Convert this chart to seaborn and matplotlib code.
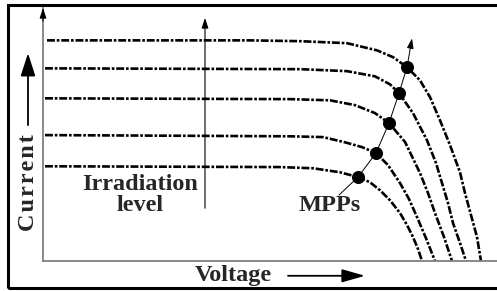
import matplotlib
matplotlib.use("Agg")
import matplotlib.pyplot as plt
from matplotlib.patches import Rectangle
import seaborn as sns
import pandas as pd

# I-V curves (voltage in V, current in A), one per irradiation level
v1 = [0.2, 10.35, 12.85, 15.2, 16.7, 17.5, 18.2, 18.85, 19.35, 19.85, 20.35,
      20.85, 21.1, 21.4, 21.7, 21.9]
i1 = [5.52, 5.52, 5.5, 5.45, 5.27, 5.1, 4.85, 4.52, 4.1, 3.52, 2.9,
      2.22, 1.7, 1.15, 0.6, 0.0]
v2 = [0.1, 12.85, 15.2, 16.6, 17.35, 17.8, 18.5, 19.2, 19.65, 19.95, 20.25,
      20.5, 20.85, 21.15]
i2 = [4.82, 4.8, 4.75, 4.62, 4.42, 4.2, 3.7, 3.02, 2.45, 1.95, 1.45,
      0.95, 0.45, 0.0]
v3 = [0.1, 12.35, 14.35, 15.6, 16.6, 17.3, 18.1, 18.85, 19.25, 19.6, 20.05, 20.45]
i3 = [4.07, 4.05, 4.02, 3.9, 3.7, 3.45, 2.98, 2.2, 1.7, 1.2, 0.6, 0.0]
v4 = [0.1, 12.35, 14.0, 15.1, 15.95, 16.65, 17.25, 17.85, 18.3, 18.7, 19.15, 19.6]
i4 = [3.15, 3.12, 3.1, 2.97, 2.85, 2.7, 2.4, 1.95, 1.55, 1.1, 0.57, 0.0]
v5 = [0.1, 11.85, 13.5, 14.85, 15.75, 16.35, 16.85, 17.35, 17.85, 18.2, 18.5,
      18.75, 18.95]
i5 = [2.37, 2.35, 2.32, 2.22, 2.1, 1.97, 1.77, 1.52, 1.2, 0.9, 0.6, 0.3, 0.0]

# maximum power points, bottom to top, plus the tail and tip of the MPP arrow
mpp_v = [15.75, 16.65, 17.3, 17.8, 18.2]
mpp_i = [2.1, 2.7, 3.45, 4.2, 4.85]
mpp_tail = (14.8, 1.65)
mpp_tip = (18.45, 5.57)

curves = [(v1, i1), (v2, i2), (v3, i3), (v4, i4), (v5, i5)]

sns.set_style("white")
plt.rcParams['font.family'] = ['Liberation Serif', 'DejaVu Serif']
plt.rcParams['font.weight'] = 'bold'

fig = plt.figure(figsize=(4.97, 2.91), dpi=100)
ax = fig.add_axes([43 / 497, 30 / 291, 454 / 497, 253 / 291])

for v, i in curves:
    sns.lineplot(x=v, y=i, ax=ax, color='black', sort=False, lw=1.9,
                 linestyle=(0, (3, 0.7, 1, 0.7)))

# MPP path
sns.lineplot(x=[mpp_tail[0]] + mpp_v, y=[mpp_tail[1]] + mpp_i, ax=ax,
             color='black', sort=False, lw=0.7)
ax.annotate('', xy=mpp_tip, xytext=(mpp_v[-1], mpp_i[-1]),
            arrowprops=dict(arrowstyle='-|>,head_length=0.6,head_width=0.2',
                            color='black', lw=0.7, shrinkA=0, shrinkB=0))

mpp = pd.DataFrame({'Voltage': mpp_v, 'Current': mpp_i})
sns.scatterplot(data=mpp, x='Voltage', y='Current', ax=ax, color='black',
                s=75, edgecolor='black', zorder=5)

ax.set_xlim(0, 22.7)
ax.set_ylim(0, 6.33)
ax.set_xticks([])
ax.set_yticks([])
ax.set_xlabel('')
ax.set_ylabel('')
for side in ['top', 'right']:
    ax.spines[side].set_visible(False)
for side in ['left', 'bottom']:
    ax.spines[side].set_color('#808080')
    ax.spines[side].set_linewidth(1.3)

# y axis arrowhead
ax.annotate('', xy=(0, 6.33), xytext=(0, 6.0), annotation_clip=False,
            arrowprops=dict(arrowstyle='-|>,head_length=0.6,head_width=0.2',
                            color='black', lw=0.8, shrinkA=0, shrinkB=0))

ax.text(14.35, 1.4, 'MPPs', ha='center', va='center', fontsize=17.5,
        fontweight='bold')

# irradiation arrow
ax.annotate('', xy=(8.1, 6.08), xytext=(8.1, 1.32),
            arrowprops=dict(arrowstyle='-|>,head_length=0.6,head_width=0.2',
                            color='black', lw=0.8, shrinkA=0, shrinkB=0))
ax.text(4.85, 1.65, 'Irradiation\nlevel', ha='center', va='center',
        fontsize=17.5, fontweight='bold', linespacing=1.05)

# axis labels with arrows
ax.text(-0.75, 1.97, '\u200a'.join('Current'), rotation=90, ha='center',
        va='center', fontsize=17.5, fontweight='bold', clip_on=False)
ax.annotate('', xy=(-0.75, 5.2), xytext=(-0.75, 3.4), annotation_clip=False,
            arrowprops=dict(arrowstyle='-|>,head_length=1.4,head_width=0.45',
                            color='black', lw=1.3, shrinkA=0, shrinkB=0))
ax.text(9.5, -0.37, 'Voltage', ha='center', va='center', fontsize=17.5,
        fontweight='bold', clip_on=False)
ax.annotate('', xy=(16.1, -0.37), xytext=(12.25, -0.37), annotation_clip=False,
            arrowprops=dict(arrowstyle='-|>,head_length=1.4,head_width=0.4',
                            color='black', lw=1.3, shrinkA=0, shrinkB=0))

# outer frame (right edge runs off the picture)
fig.patches.append(Rectangle((8 / 497, 3 / 291), 1.0, 283 / 291,
                             transform=fig.transFigure, fill=False,
                             edgecolor='black', lw=2.2, clip_on=False))

fig.savefig('out.png', dpi=100)
